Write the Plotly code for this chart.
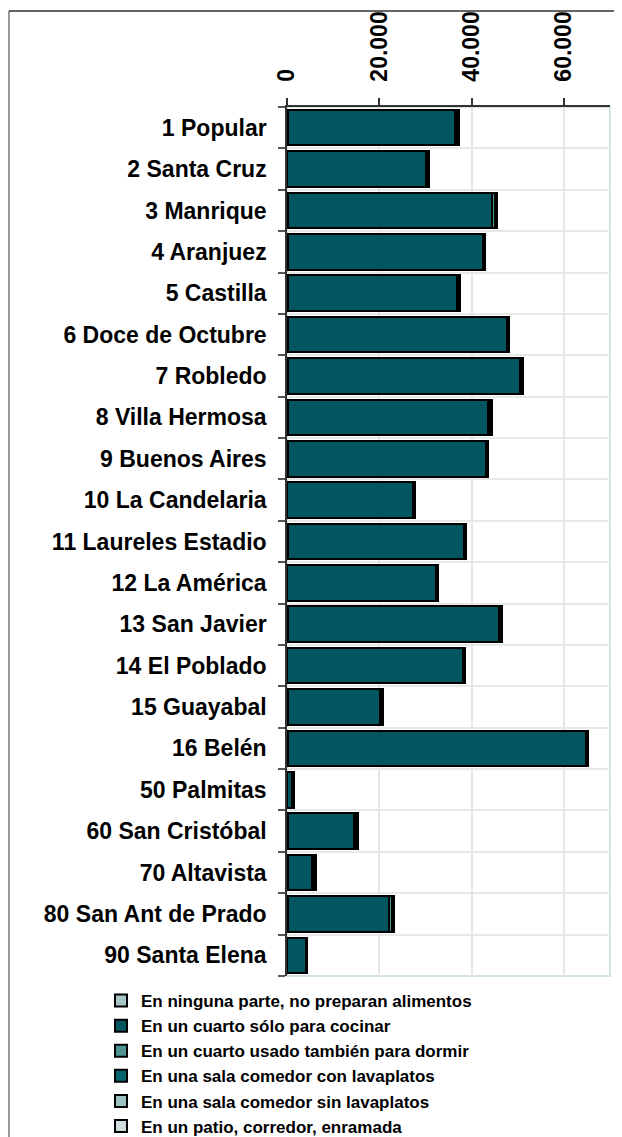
import plotly.graph_objects as go

categories = ["1 Popular", "2 Santa Cruz", "3 Manrique", "4 Aranjuez", "5 Castilla",
              "6 Doce de Octubre", "7 Robledo", "8 Villa Hermosa", "9 Buenos Aires",
              "10 La Candelaria", "11 Laureles Estadio", "12 La América", "13 San Javier",
              "14 El Poblado", "15 Guayabal", "16 Belén", "50 Palmitas", "60 San Cristóbal",
              "70 Altavista", "80 San Ant de Prado", "90 Santa Elena"]

series_names = ["En ninguna parte, no preparan alimentos",
                "En un cuarto sólo para cocinar",
                "En un cuarto usado también para dormir",
                "En una sala comedor con lavaplatos",
                "En una sala comedor sin lavaplatos",
                "En un patio, corredor, enramada"]

ninguna   = [150, 100, 200, 120, 120, 150, 180, 150, 120, 100, 120, 100, 180, 100, 120, 120, 20, 150, 120, 200, 50]
cocina    = [36300, 30100, 44200, 42300, 36800, 47500, 50300, 43400, 42900, 27200, 38200, 32200, 45800, 38100, 20100, 64700, 1100, 14300, 5300, 21800, 4000]
dormir    = [450, 300, 700, 300, 300, 300, 400, 550, 300, 250, 300, 250, 450, 250, 350, 300, 250, 600, 500, 700, 200]
sala_con  = [200, 150, 250, 120, 120, 100, 150, 200, 120, 100, 120, 100, 180, 100, 150, 120, 80, 250, 200, 250, 100]
sala_sin  = [60, 40, 100, 40, 40, 30, 50, 60, 40, 30, 40, 30, 60, 30, 50, 40, 30, 60, 50, 100, 30]
patio     = [40, 30, 50, 20, 20, 20, 20, 40, 20, 20, 20, 20, 30, 20, 30, 20, 20, 40, 30, 50, 20]

x_ticks = [0, 20000, 40000, 60000]

series_values = [ninguna, cocina, dormir, sala_con, sala_sin, patio]
series_colors = ["#a9c6c6", "#03565f", "#4e9696", "#05666f", "#9cc2c2", "#cfdfdf"]

positions = list(range(len(categories)))

fig = go.Figure()
for name, vals, col in zip(series_names, series_values, series_colors):
    fig.add_trace(go.Bar(
        y=positions, x=vals, orientation="h", name=name,
        marker=dict(color=col, line=dict(color="#000000", width=2)),
    ))

FONT = "Arial, Liberation Sans, sans-serif"

# page body margin of the browser
OFF = 8
# plot area geometry in window pixels
L, R, T, B = 287, 610, 107, 976
W, H = 622 - OFF, 1137 - OFF

def px(xp):
    return (xp - L) / (R - L)

def py(yp):
    return (B - yp) / (B - T)

shapes = [
    dict(type="rect", xref="paper", yref="paper", x0=0, x1=1, y0=0, y1=1,
         line=dict(color="#d3e2e2", width=2), layer="below"),
    dict(type="line", xref="paper", yref="paper", x0=px(9), x1=px(9), y0=py(1137), y1=py(11),
         line=dict(color="#9a9a9a", width=2)),
    dict(type="line", xref="paper", yref="paper", x0=px(9), x1=px(622), y0=py(11), y1=py(11),
         line=dict(color="#333333", width=1.5)),
]

fig.update_layout(
    width=W, height=H,
    margin=dict(l=L - OFF, r=622 - R, t=T - OFF, b=1137 - B, pad=0, autoexpand=False),
    paper_bgcolor="white", plot_bgcolor="white",
    barmode="stack", bargap=0.14,
    separators=",.",
    font=dict(family=FONT, color="#000000"),
    showlegend=True,
    legend=dict(
        x=px(101), xanchor="left", y=py(983), yanchor="top",
        traceorder="normal", orientation="v",
        font=dict(family=FONT, size=17, weight="bold", color="#000000"),
        itemwidth=30, tracegroupgap=0, bgcolor="rgba(0,0,0,0)",
    ),
    shapes=shapes,
    xaxis=dict(
        side="top", range=[0, 70000], tickvals=x_ticks, tickformat=",d",
        tickangle=-90, tickfont=dict(family=FONT, size=23, weight="bold", color="#000000"),
        ticks="outside", ticklen=7, tickcolor="#333333", tickwidth=1.5,
        showgrid=True, gridcolor="#e6e6e6", gridwidth=1.5,
        showline=True, linecolor="#333333", linewidth=1.5,
        zeroline=False, ticklabelstandoff=12, automargin=False,
    ),
    yaxis=dict(
        range=[len(categories) - 0.5, -0.5], tickvals=positions, ticktext=categories,
        tickfont=dict(family=FONT, size=23, weight="bold", color="#000000"),
        ticks="", showgrid=False, zeroline=False,
        showline=True, linecolor="#333333", linewidth=1.5,
        ticklabelstandoff=14, automargin=False,
        minor=dict(tickvals=[p - 0.5 for p in positions] + [positions[-1] + 0.5],
                   ticks="outside", ticklen=7, tickcolor="#555555", tickwidth=1.5,
                   showgrid=True, gridcolor="#e8e8e8", gridwidth=1.5),
    ),
)

fig.write_html("out.html")
